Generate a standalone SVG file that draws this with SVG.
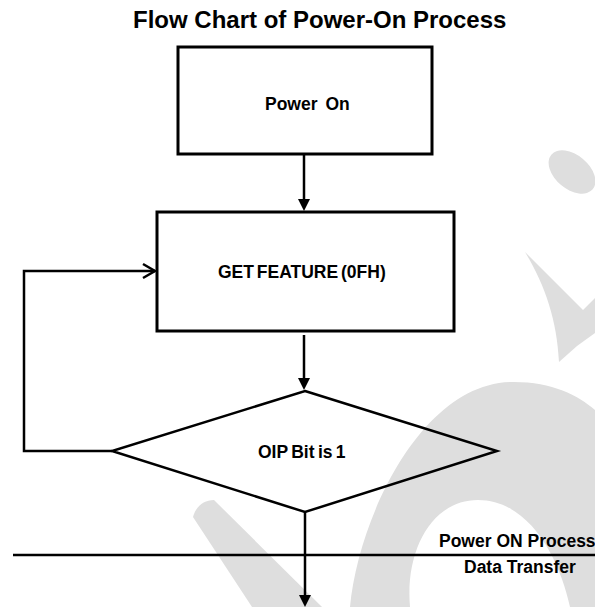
<svg xmlns="http://www.w3.org/2000/svg" width="595" height="607" viewBox="0 0 595 607">
<style>
.wm{fill:#dedede;stroke:none}
.box{fill:none;stroke:#000;stroke-width:3}
.ln{fill:none;stroke:#000;stroke-width:2.5}
.t{font-family:"Liberation Sans",Arial,sans-serif;font-weight:bold;font-size:17.5px;fill:#000}
.title{font-family:"Liberation Sans",Arial,sans-serif;font-weight:bold;font-size:24px;fill:#000}
</style>
<defs>
<marker id="arr" viewBox="0 0 12 12" refX="6" refY="6" markerWidth="12" markerHeight="12" markerUnits="userSpaceOnUse" orient="auto">
<path d="M0,0 L12,6 L0,12 Z" fill="#000"/>
</marker>
<marker id="open" viewBox="-2 -2 16 18" refX="12" refY="7" markerWidth="16" markerHeight="18" markerUnits="userSpaceOnUse" orient="auto" overflow="visible">
<path d="M0,0 L12,7 L0,14" fill="none" stroke="#000" stroke-width="2.5"/>
</marker>
</defs>
<rect width="595" height="607" fill="#fff"/>
<g id="watermark">
<ellipse class="wm" cx="572" cy="172" rx="27" ry="17" transform="rotate(40 572 172)"/>
<path class="wm" d="M525,252 L583,310 L595,298 L595,333 L577,346 L559,362 C557,320 545,285 525,252 Z"/>
<path class="wm" d="M193,517 C196,506 204,500 214,500 L322,607 L252,607 Z"/>
<path class="wm" d="M350,607 C358,520 420,385 510,382 C550,381 578,395 595,410 L595,607 L570,607 C560,560 530,500 478,500 C432,500 405,550 410,607 Z"/>
</g>
<text class="title" x="133" y="28">Flow Chart of Power-On Process</text>
<g id="power-on">
<rect class="box" x="178" y="47" width="254" height="107"/>
<text class="t" x="265" y="110" word-spacing="3">Power On</text>
</g>
<g id="get-feature">
<rect class="box" x="157" y="212" width="297" height="119"/>
<text class="t" x="218" y="278" word-spacing="-2">GET FEATURE (0FH)</text>
</g>
<g id="oip-check">
<polygon class="ln" points="305,391 497,451 305,512 112,451"/>
<text class="t" x="258" y="458" word-spacing="-1.5">OIP Bit is 1</text>
</g>
<g id="phase-divider">
<line class="ln" x1="13" y1="555" x2="595" y2="555"/>
<text class="t" x="439" y="547">Power ON Process</text>
<text class="t" x="464" y="573">Data Transfer</text>
</g>
<g id="connectors">
<line class="ln" x1="304" y1="154" x2="304" y2="205" marker-end="url(#arr)"/>
<line class="ln" x1="304" y1="335" x2="304" y2="384" marker-end="url(#arr)"/>
<line class="ln" x1="305" y1="512" x2="305" y2="601" marker-end="url(#arr)"/>
<polyline class="ln" points="112,451 24,451 24,271 155,271" marker-end="url(#open)"/>
</g>
</svg>
